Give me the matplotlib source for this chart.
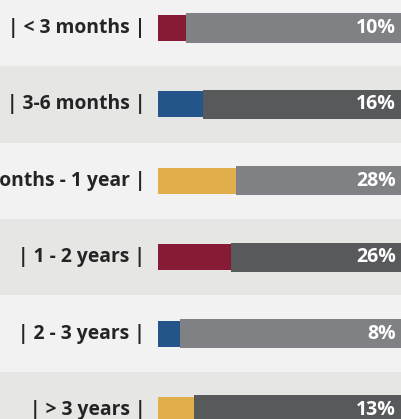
import matplotlib
matplotlib.use("Agg")
import matplotlib.pyplot as plt
from matplotlib.patches import Rectangle

categories = ["| < 3 months |", "| 3-6 months |", "| 6 months - 1 year |",
              "| 1 - 2 years |", "| 2 - 3 years |", "| > 3 years |"]
values = [10, 16, 28, 26, 8, 13]
value_labels = ["10%", "16%", "28%", "26%", "8%", "13%"]

bar_colors = ["#871b36", "#23558a", "#e2ae4b", "#871b36", "#23558a", "#e2ae4b"]
rest_colors = ["#808184", "#58595b"]
bg_colors = ["#f2f2f2", "#e6e6e4"]

W, H = 401, 419
fig = plt.figure(figsize=(W / 100, H / 100), dpi=100)
ax = fig.add_axes([0, 0, 1, 1])

x0_px = 158.0
px_per_unit = 2.8
row_px = 76.4
first_center_px = 28.0

ax.set_xlim(-x0_px / px_per_unit, (W - x0_px) / px_per_unit)
ax.set_ylim((H - first_center_px) / row_px, -first_center_px / row_px)
ax.axis("off")

for i in range(len(categories)):
    ax.add_patch(Rectangle((-100, i - 0.5), 300, 1.0, color=bg_colors[i % 2],
                           zorder=0, linewidth=0))

ys = list(range(len(categories)))
rest = [100 - v for v in values]
ax.barh(ys, rest, left=values, height=0.38,
        color=[rest_colors[i % 2] for i in ys], zorder=2, linewidth=0)
ax.barh(ys, values, height=0.34, color=bar_colors, zorder=3, linewidth=0)

label_x = (145 - x0_px) / px_per_unit
pct_x = (396 - x0_px) / px_per_unit
for i, (c, lbl) in enumerate(zip(categories, value_labels)):
    ax.text(label_x, i, c, ha="right", va="center", fontsize=13.9,
            fontweight="bold", family="Open Sans", color="#262324", zorder=4)
    ax.text(pct_x, i, lbl, ha="right", va="center", fontsize=14,
            fontweight="bold", family="Open Sans", color="white", zorder=4)

fig.savefig("out.png", dpi=100)
